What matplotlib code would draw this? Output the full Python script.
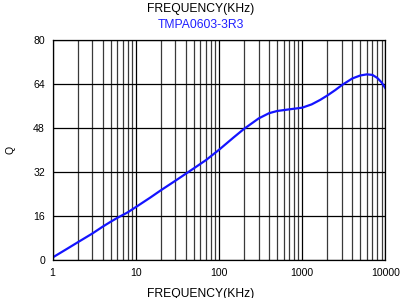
import matplotlib
matplotlib.use("Agg")
import matplotlib.pyplot as plt
from matplotlib.ticker import FixedLocator, NullFormatter

# values
freq = [1, 1.5, 2, 3, 4, 5, 6, 8, 10, 15, 20, 30, 50, 70, 100, 150, 200,
        300, 400, 500, 700, 1000, 1300, 1640, 2000, 2500, 3000, 4000, 5000,
        6000, 7000, 8000, 9000, 10000]
q = [1.0, 4.2, 6.5, 9.7, 12.2, 14.0, 15.4, 17.4, 19.3, 22.8, 25.4, 28.9,
     33.4, 36.4, 40.1, 44.6, 47.7, 51.5, 53.4, 54.2, 54.8, 55.4, 56.6, 58.2,
     59.8, 61.8, 63.6, 66.0, 67.1, 67.5, 67.3, 66.2, 64.6, 62.5]

x_ticks = [1, 10, 100, 1000, 10000]
x_labels = ["1", "10", "100", "1000", "10000"]
y_ticks = [0, 16, 32, 48, 64, 80]

plt.rcParams['font.family'] = ['Liberation Sans', 'DejaVu Sans']

fig = plt.figure(figsize=(4.01, 2.98), dpi=100)
ax = fig.add_axes([0.131, 0.1265, 0.83, 0.7395])

minor = [m * 10 ** d for d in range(4) for m in range(2, 10)]
ax.set_xscale('log')
ax.set_xlim(1, 10000)
ax.set_ylim(0, 80)
ax.xaxis.set_major_locator(FixedLocator(x_ticks))
ax.xaxis.set_minor_locator(FixedLocator(minor))
ax.xaxis.set_minor_formatter(NullFormatter())
ax.set_xticks(x_ticks)
ax.set_xticklabels(x_labels)
ax.set_yticks(y_ticks)

ax.grid(True, which='major', axis='both', color='black', lw=0.9)
ax.grid(True, which='minor', axis='x', color='#3a3a3a', lw=0.9)
ax.tick_params(which='both', length=0, labelsize=7.6, pad=5.5)
for s in ax.spines.values():
    s.set_color('black')
    s.set_linewidth(0.9)

ax.plot(freq, q, color='#1414ff', lw=1.6, solid_joinstyle='round')

ax.set_ylabel('Q', fontsize=7.6, labelpad=13)
fig.text(0.5, 0.9607, 'FREQUENCY(KHz)', ha='center', va='baseline',
         fontsize=8.7)
fig.text(0.5, 0.905, 'TMPA0603-3R3', ha='center', va='baseline',
         fontsize=8.7, color='#2020ff')
fig.text(0.5, 0.0336, 'FREQUENCY(KHz)', ha='center', va='top', fontsize=8.7)

fig.savefig('out.png', dpi=100)
